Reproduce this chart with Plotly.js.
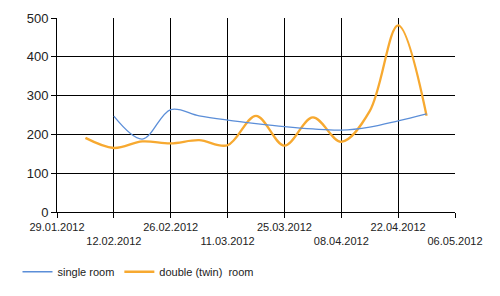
<!DOCTYPE html>
<html>
<head>
<meta charset="utf-8">
<script src="https://cdn.plot.ly/plotly-3.0.1.min.js"></script>
<style>html,body{margin:0;padding:0;background:#fff;}#chart{width:500px;height:296px;}</style>
</head>
<body>
<div id="chart"></div>
<script>
const singleDates = ["2012-02-12","2012-02-19","2012-02-26","2012-03-04","2012-03-11","2012-03-18","2012-03-25","2012-04-01","2012-04-08","2012-04-15","2012-04-22","2012-04-29"];
const singleValues = [247, 188, 264, 248, 237, 228, 220, 214, 211, 219, 235, 253];
const doubleDates = ["2012-02-05","2012-02-12","2012-02-19","2012-02-26","2012-03-04","2012-03-11","2012-03-18","2012-03-25","2012-04-01","2012-04-08","2012-04-15","2012-04-22","2012-04-29"];
const doubleValues = [191, 165, 182, 177, 185, 172, 248, 171, 244, 181, 260, 481, 248];
const tickDates = ["2012-01-29","2012-02-12","2012-02-26","2012-03-11","2012-03-25","2012-04-08","2012-04-22","2012-05-06"];
const tickLabels = ["29.01.2012","12.02.2012","26.02.2012","11.03.2012","25.03.2012","08.04.2012","22.04.2012","06.05.2012"];

const row2Vals = tickDates.filter((d, i) => i % 2 === 1);
const row2Text = tickLabels.filter((d, i) => i % 2 === 1);

const traces = [
  {x: singleDates, y: singleValues, xaxis: "x2", yaxis: "y", type: "scatter", mode: "lines", name: "single room",
   line: {color: "#5b8ed8", width: 1.3, shape: "spline", smoothing: 1}},
  {x: doubleDates, y: doubleValues, type: "scatter", mode: "lines", name: "double (twin)\u00a0 room",
   line: {color: "#f7a930", width: 2.3, shape: "spline", smoothing: 1}}
];

const xRange = ["2012-01-29", "2012-05-06"];

const layout = {
  width: 500, height: 296,
  margin: {l: 57, r: 45, t: 18, b: 84},
  paper_bgcolor: "#fff", plot_bgcolor: "#fff",
  font: {family: "Arial, 'Liberation Sans', sans-serif", size: 11, color: "#222"},
  showlegend: true,
  legend: {orientation: "h", xref: "container", yref: "container", x: 0.035, xanchor: "left",
           y: 0.082, yanchor: "middle", traceorder: "normal",
           font: {size: 11, color: "#222"}, tracegroupgap: 0},
  xaxis: {
    type: "date", range: xRange,
    tickmode: "array", tickvals: tickDates, ticktext: tickLabels.map((t, i) => i % 2 === 0 ? t : ""),
    tickangle: 0, automargin: false,
    showgrid: true, gridcolor: "#000", gridwidth: 1,
    showline: true, linecolor: "#000", linewidth: 1,
    ticks: "outside", ticklen: 5, tickcolor: "#000",
    tickfont: {size: 11, color: "#222"}, zeroline: false
  },
  xaxis2: {
    type: "date", range: xRange, overlaying: "x", side: "bottom", anchor: "y",
    tickmode: "array", tickvals: row2Vals, ticktext: row2Text,
    tickangle: 0, automargin: false, showgrid: false, showline: false,
    ticks: "", ticklabelstandoff: 21,
    tickfont: {size: 11, color: "#222"}, zeroline: false
  },
  yaxis: {
    range: [0, 500], dtick: 100, tick0: 0, automargin: false,
    showgrid: true, gridcolor: "#000", gridwidth: 1,
    showline: true, linecolor: "#000", linewidth: 1,
    ticks: "outside", ticklen: 5, tickcolor: "#000",
    tickfont: {size: 13, color: "#222"}, zeroline: false
  }
};

Plotly.newPlot("chart", traces, layout, {displayModeBar: false, staticPlot: true});
</script>
</body>
</html>
